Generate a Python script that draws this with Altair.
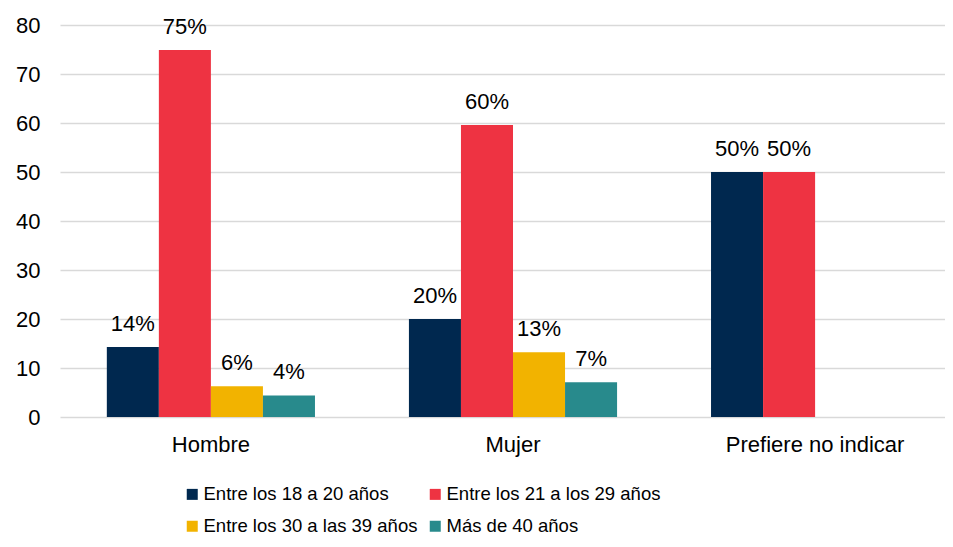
import altair as alt
import pandas as pd

categories = ["Hombre", "Mujer", "Prefiere no indicar"]
series = [
    "Entre los 18 a 20 años",
    "Entre los 21 a los 29 años",
    "Entre los 30 a las 39 años",
    "Más de 40 años",
]
colors = ["#00284F", "#EE3342", "#F2B300", "#288A8C"]
# legend is laid out column by column: this order gives the reference rows
legend_order = [series[0], series[2], series[1], series[3]]
legend_colors = [colors[0], colors[2], colors[1], colors[3]]

# values per series, in category order (None = no bar)
edad_18_20 = [14.3, 20.0, 50.0]
edad_21_29 = [74.9, 59.6, 50.0]
edad_30_39 = [6.3, 13.2, None]
edad_40_mas = [4.4, 7.1, None]

y_ticks = [0, 10, 20, 30, 40, 50, 60, 70, 80]

rows = []
for s, vals in zip(series, [edad_18_20, edad_21_29, edad_30_39, edad_40_mas]):
    for c, v in zip(categories, vals):
        if v is not None:
            rows.append({"cat": c, "serie": s, "v": v})
df = pd.DataFrame(rows)

FONT = "Liberation Sans"

base = alt.Chart(df).transform_calculate(
    lab="format(datum.v, '.0f') + '%'"
).encode(
    x=alt.X(
        "cat:N",
        sort=categories,
        scale=alt.Scale(paddingInner=0.311, paddingOuter=0.155),
        axis=alt.Axis(
            title=None, labelAngle=0, domain=False, ticks=False, grid=False,
            labelFontSize=22, labelFont=FONT, labelColor="#000000", labelPadding=17,
        ),
    ),
    xOffset=alt.XOffset("serie:N", sort=series, scale=alt.Scale(paddingInner=0, paddingOuter=0)),
    y=alt.Y(
        "v:Q",
        scale=alt.Scale(domain=[0, 80]),
        axis=alt.Axis(
            values=y_ticks, title=None, domain=False, ticks=False, tickSize=0,
            labelFontSize=22, labelFont=FONT, labelColor="#000000", labelPadding=20,
            grid=True, gridColor="#D9D9D9", gridWidth=1.5,
        ),
    ),
)

bars = base.mark_bar().encode(
    color=alt.Color(
        "serie:N",
        scale=alt.Scale(domain=legend_order, range=legend_colors),
        legend=alt.Legend(
            title=None, orient="none", legendX=123, legendY=460, columns=2,
            symbolType="square", symbolSize=121, symbolStrokeWidth=0,
            labelFontSize=18.5, labelFont=FONT, labelColor="#000000", labelLimit=400,
            rowPadding=13, columnPadding=8, labelOffset=2, padding=0,
        ),
    )
)

text = base.mark_text(
    baseline="alphabetic", dy=-16, fontSize=22, font=FONT, color="#000000"
).encode(text="lab:N")

chart = (bars + text).properties(
    width=906,
    height=392,
    padding={"left": 52, "top": 17, "right": -21, "bottom": 122},
    autosize="none",
).configure_view(stroke=None)

chart.save("out.html", embed_options={"renderer": "svg", "actions": False})
